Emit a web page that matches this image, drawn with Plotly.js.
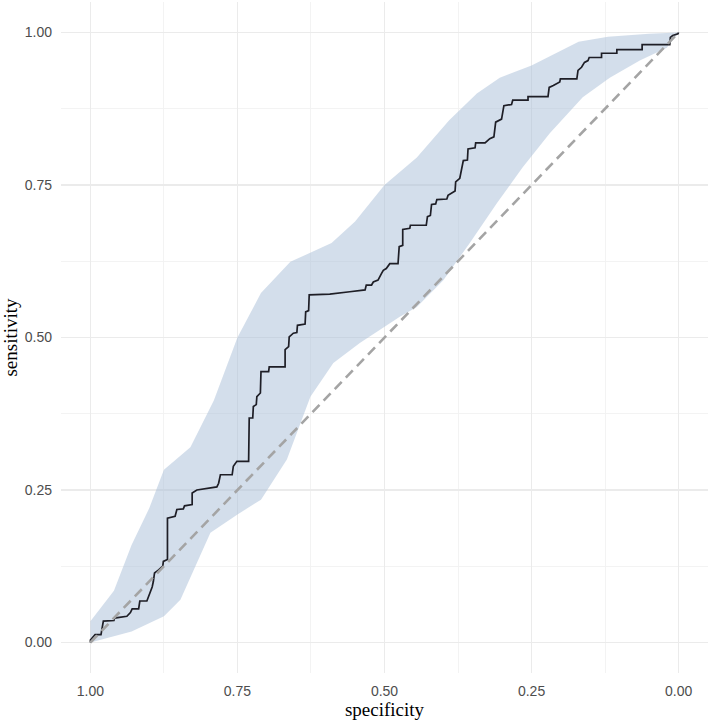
<!DOCTYPE html>
<html><head><meta charset="utf-8">
<script src="https://cdn.plot.ly/plotly-3.0.1.min.js"></script>
<style>html,body{margin:0;padding:0;background:#fff}</style></head>
<body>
<div id="chart" style="width:709px;height:720px"></div>
<script>
// ROC curve vertices (specificity, sensitivity)
const rocSpec = [1.000,1.000,0.992,0.982,0.978,0.960,0.959,0.938,0.932,0.929,0.918,0.916,0.904,0.901,0.898,0.895,0.893,0.891,0.884,0.877,0.876,0.869,0.869,0.856,0.853,0.842,0.840,0.827,0.827,0.819,0.785,
  0.782,0.779,0.759,0.757,0.751,0.731,0.730,0.724,0.723,0.718,0.717,0.711,0.710,0.697,0.696,0.669,0.669,0.663,0.662,0.655,0.649,0.648,0.635,0.634,0.629,0.628,0.593,0.559,0.533,
  0.531,0.522,0.519,0.511,0.505,0.502,0.497,0.491,0.477,0.475,0.469,0.469,0.457,0.456,0.429,0.427,0.422,0.420,0.413,0.411,0.394,0.392,0.380,0.379,0.372,0.366,0.359,0.358,0.346,0.345,0.329,0.321,0.314,0.311,0.301,0.297,
  0.284,0.282,0.256,0.256,0.222,0.220,0.213,0.202,0.201,0.173,0.171,0.165,0.160,0.154,0.152,0.131,0.131,0.105,0.105,0.062,0.062,0.015,0.014,0.010,0.001,0.000];
const rocSens = [0.000,0.004,0.013,0.013,0.035,0.036,0.040,0.043,0.049,0.055,0.055,0.068,0.068,0.076,0.084,0.091,0.100,0.114,0.119,0.125,0.133,0.136,0.204,0.207,0.218,0.219,0.224,0.226,0.245,0.250,0.255,
  0.261,0.275,0.275,0.289,0.297,0.297,0.368,0.368,0.387,0.390,0.403,0.409,0.444,0.444,0.452,0.452,0.480,0.485,0.501,0.507,0.508,0.520,0.522,0.542,0.544,0.570,0.571,0.575,0.578,
  0.586,0.586,0.591,0.594,0.605,0.610,0.613,0.621,0.621,0.649,0.651,0.677,0.679,0.684,0.684,0.698,0.700,0.718,0.719,0.726,0.727,0.733,0.740,0.755,0.761,0.790,0.791,0.809,0.811,0.819,0.819,0.826,0.829,0.853,0.858,0.880,
  0.882,0.889,0.889,0.895,0.895,0.910,0.913,0.919,0.924,0.924,0.938,0.943,0.951,0.954,0.959,0.959,0.966,0.966,0.972,0.972,0.980,0.980,0.992,0.995,0.998,1.000];

// Confidence band of sensitivity
const upperSpec = [1.00,0.96,0.93,0.90,0.875,0.83,0.79,0.75,0.71,0.66,0.59,0.55,0.50,0.445,0.39,0.343,0.304,0.25,0.17,0.12,0.05,0.00];
const upperSens = [0.035,0.085,0.16,0.22,0.283,0.32,0.397,0.50,0.573,0.624,0.655,0.69,0.75,0.795,0.856,0.90,0.926,0.946,0.985,0.993,0.998,1.00];
const lowerSpec = [1.00,0.93,0.875,0.847,0.796,0.75,0.71,0.666,0.626,0.587,0.542,0.474,0.445,0.40,0.355,0.309,0.265,0.219,0.163,0.117,0.066,0.02,0.00];
const lowerSens = [0.00,0.018,0.043,0.07,0.18,0.21,0.234,0.30,0.403,0.458,0.491,0.534,0.55,0.594,0.655,0.72,0.779,0.835,0.894,0.926,0.954,0.975,1.00];

const refSpec = [1, 0];
const refSens = [0, 1];

const majorTicks = [1, 0.75, 0.5, 0.25, 0];
const majorLabels = ['1.00', '0.75', '0.50', '0.25', '0.00'];
const minorTicks = [0.875, 0.625, 0.375, 0.125];

const bandX = upperSpec.concat(lowerSpec.slice().reverse());
const bandY = upperSens.concat(lowerSens.slice().reverse());

const traces = [
  {x: bandX, y: bandY, type: 'scatter', mode: 'lines', fill: 'toself',
   fillcolor: 'rgba(168,190,216,0.5)', line: {width: 0}, hoverinfo: 'skip', showlegend: false},
  {x: rocSpec, y: rocSens, type: 'scatter', mode: 'lines',
   line: {color: '#1e1e26', width: 1.7}, showlegend: false},
  {x: refSpec, y: refSens, type: 'scatter', mode: 'lines',
   line: {color: '#a4a4a4', width: 2.6, dash: '10px,6px'}, showlegend: false}
];

const tickFont = {family: 'Liberation Sans, Arial, sans-serif', size: 14, color: '#4d4d4d'};
const titleFont = {family: 'Liberation Serif, Times New Roman, serif', size: 19, color: '#000'};

const layout = {
  width: 709, height: 720,
  margin: {l: 61, r: 1, t: 2, b: 47},
  paper_bgcolor: '#fff', plot_bgcolor: '#fff',
  showlegend: false,
  xaxis: {
    range: [1.05, -0.05], tickvals: majorTicks, ticktext: majorLabels,
    showgrid: true, gridcolor: '#ebebeb', gridwidth: 1.6,
    zeroline: false, showline: false, ticks: '',
    tickfont: tickFont, ticklabelstandoff: 8,
    minor: {tickvals: minorTicks, showgrid: true, gridcolor: '#f2f2f2', gridwidth: 0.9, ticks: ''},
    title: {text: 'specificity', font: titleFont, standoff: 2}
  },
  yaxis: {
    range: [-0.05, 1.05], tickvals: majorTicks, ticktext: majorLabels,
    showgrid: true, gridcolor: '#ebebeb', gridwidth: 1.6,
    zeroline: false, showline: false, ticks: '',
    tickfont: tickFont, ticklabelstandoff: 8,
    minor: {tickvals: minorTicks, showgrid: true, gridcolor: '#f2f2f2', gridwidth: 0.9, ticks: ''},
    title: {text: 'sensitivity', font: titleFont, standoff: 2}
  }
};

Plotly.newPlot('chart', traces, layout, {displayModeBar: false, staticPlot: true});
</script>
</body></html>
